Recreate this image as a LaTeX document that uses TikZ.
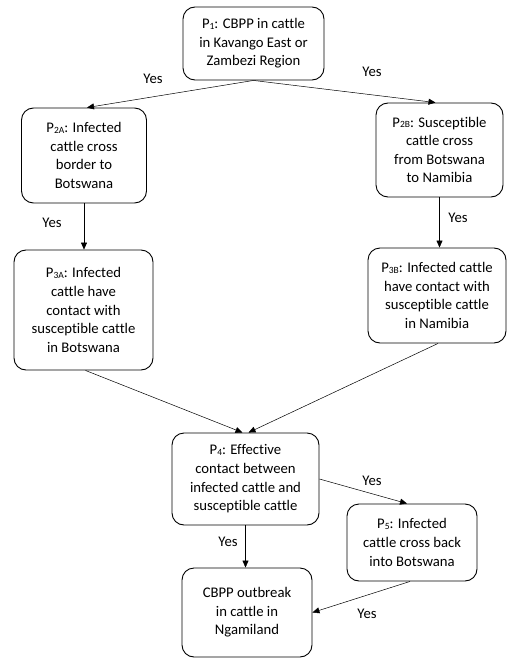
\documentclass[tikz,border=0pt]{standalone}
\usepackage{fontspec}
\setmainfont{Carlito}[Ligatures={NoCommon}]
\usetikzlibrary{arrows.meta}
\newcommand{\psub}[1]{{\fontsize{9.5pt}{9.5pt}\selectfont\raisebox{-0.6pt}{#1}}}
\tikzset{
  box/.style={draw, line width=0.9pt, rounded corners=12pt, align=center, inner sep=0pt,
    font=\fontsize{14.7pt}{18.6pt}\selectfont},
  conn/.style={line width=0.5pt, -{Triangle[length=7pt,width=6pt]}},
  yes/.style={font=\fontsize{14.7pt}{18.6pt}\selectfont, inner sep=0pt}
}
\begin{document}
\begin{tikzpicture}[x=1pt,y=-1pt]
\useasboundingbox (0,0) rectangle (508,658);
\node[box, minimum width=141pt, minimum height=73pt] (p1) at (253.5,43.5) {P\psub{1}: CBPP in cattle\\in Kavango East or\\Zambezi Region};
\node[box, minimum width=125pt, minimum height=95pt] (p2a) at (84,155.5) {P\psub{2A}: Infected\\cattle cross\\border to\\Botswana};
\node[box, minimum width=127pt, minimum height=94pt] (p2b) at (439.5,150) {P\psub{2B}: Susceptible\\cattle cross\\from Botswana\\to Namibia};
\node[box, minimum width=139pt, minimum height=120pt] (p3a) at (83.5,310) {P\psub{3A}: Infected\\cattle have\\contact with\\susceptible cattle\\in Botswana};
\node[box, minimum width=138pt, minimum height=95pt] (p3b) at (437,295.5) {P\psub{3B}: Infected cattle\\have contact with\\susceptible cattle\\in Namibia};
\node[box, minimum width=147pt, minimum height=92pt] (p4) at (245.5,479) {P\psub{4}: Effective\\contact between\\infected cattle and\\susceptible cattle};
\node[box, minimum width=130pt, minimum height=77pt] (p5) at (412,542.5) {P\psub{5}: Infected\\cattle cross back\\into Botswana};
\node[box, minimum width=130pt, minimum height=89pt] (out) at (247,612.5) {CBPP outbreak\\in cattle in\\Ngamiland};
\draw[conn] (p1.south) -- ([xshift=3pt]p2a.north);
\draw[conn] (p1.south) -- ([xshift=-4pt]p2b.north);
\draw[conn] (p2a.south) -- (p2a.south |- p3a.north);
\draw[conn] (p2b.south) -- (p2b.south |- p3b.north);
\draw[conn] ([xshift=2pt]p3a.south) -- ([xshift=-3pt]p4.north);
\draw[conn] ([xshift=1pt]p3b.south) -- ([xshift=3pt]p4.north);
\draw[conn] (p4.east) -- ([xshift=-5pt]p5.north);
\draw[conn] (p4.south) -- (p4.south |- out.north);
\draw[conn] ([xshift=-2pt]p5.south) -- (out.east);
\node[yes] (y1) at (153,79) {Yes};
\node[yes] (y2) at (372,72) {Yes};
\node[yes] (y3) at (52,223) {Yes};
\node[yes] (y4) at (458,218) {Yes};
\node[yes] (y5) at (372,481) {Yes};
\node[yes] (y6) at (228,542) {Yes};
\node[yes] (y7) at (367,614) {Yes};
\end{tikzpicture}
\end{document}
